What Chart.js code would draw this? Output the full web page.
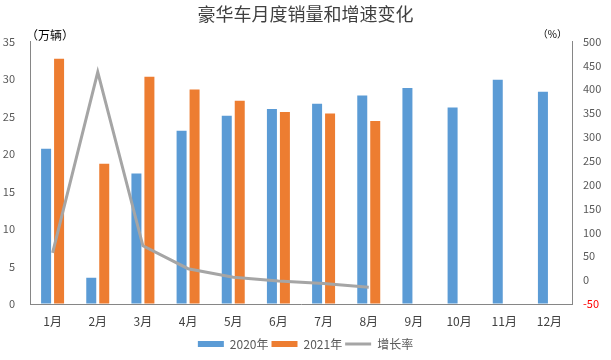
<!DOCTYPE html>
<html>
<head>
<meta charset="utf-8">
<script src="https://cdn.jsdelivr.net/npm/chart.js@4"></script>
<style>
	body { margin: 0; background: #fff; }
</style>
</head>
<body>
<canvas id="salesChart" width="611" height="360"></canvas>
<script>
	// 월별 카테고리
	const months = ["1月", "2月", "3月", "4月", "5月", "6月", "7月", "8月", "9月", "10月", "11月", "12月"];
	// 판매량 (万辆)
	const sales2020 = [20.7, 3.5, 17.4, 23.1, 25.1, 26.0, 26.7, 27.8, 28.8, 26.2, 29.9, 28.3];
	const sales2021 = [32.7, 18.7, 30.3, 28.6, 27.1, 25.6, 25.4, 24.4, null, null, null, null];
	// 증가율 (%)
	const growthRate = [57, 436, 72, 24, 6, -2, -7, -15, null, null, null, null];
	// 축 눈금
	const leftTicks = [0, 5, 10, 15, 20, 25, 30, 35];
	const rightTicks = [-50, 0, 50, 100, 150, 200, 250, 300, 350, 400, 450, 500];

	const fontFamily = '"Noto Sans CJK SC", "Liberation Sans", sans-serif';
	const axisColor = '#868686';
	const textColor = '#595959';

	// 단위 라벨 (万辆, %)
	const unitLabels = {
		id: 'unitLabels',
		afterDraw(chart) {
			const {ctx, chartArea} = chart;
			ctx.save();
			ctx.font = '12px ' + fontFamily;
			ctx.fillStyle = '#000';
			ctx.textBaseline = 'middle';
			ctx.textAlign = 'left';
			ctx.fillText('（万辆）', chartArea.left - 4, chartArea.top - 6);
			ctx.textAlign = 'right';
			ctx.font = '10px ' + fontFamily;
			ctx.fillText('（%）', chartArea.right - 5, chartArea.top - 7);
			ctx.restore();
		}
	};

	let ctx = document.getElementById('salesChart').getContext('2d');
	let salesChart = new Chart(ctx, {
		type: 'bar',
		data: {
			labels: months,
			datasets: [
				{
					label: '2020年',
					data: sales2020,
					backgroundColor: '#5B9BD5',
					yAxisID: 'y',
					order: 1,
					barPercentage: 0.77,
					categoryPercentage: 0.575
				},
				{
					label: '2021年',
					data: sales2021,
					backgroundColor: '#ED7D31',
					yAxisID: 'y',
					order: 1,
					barPercentage: 0.77,
					categoryPercentage: 0.575
				},
				{
					type: 'line',
					label: '增长率',
					data: growthRate,
					borderColor: '#A5A5A5',
					backgroundColor: '#A5A5A5',
					borderWidth: 3,
					pointRadius: 0,
					tension: 0,
					yAxisID: 'y1',
					order: 0
				}
			]
		},
		options: {
			responsive: false,
			animation: false,
			layout: {
				padding: { left: 0, right: 0, top: 0, bottom: 0 }
			},
			scales: {
				x: {
					offset: true,
					afterFit(scale) { scale.height = 31; },
					grid: { drawOnChartArea: false, drawTicks: false },
					border: { display: true, color: axisColor, width: 1 },
					ticks: {
						color: '#404040',
						font: { family: fontFamily, size: 12 },
						padding: 10,
						maxRotation: 0
					}
				},
				y: {
					position: 'left',
					min: 0,
					max: 35,
					afterFit(scale) { scale.width = 30; },
					afterBuildTicks(scale) { scale.ticks = leftTicks.map(v => ({value: v})); },
					grid: { drawOnChartArea: false, drawTicks: false },
					border: { display: true, color: axisColor, width: 1 },
					ticks: {
						color: textColor,
						font: { family: fontFamily, size: 11 },
						padding: 15
					}
				},
				y1: {
					position: 'right',
					min: -50,
					max: 500,
					afterFit(scale) { scale.width = 39; },
					afterBuildTicks(scale) { scale.ticks = rightTicks.map(v => ({value: v})); },
					grid: { drawOnChartArea: false, drawTicks: false },
					border: { display: true, color: axisColor, width: 1 },
					ticks: {
						color: (c) => c.tick && c.tick.value < 0 ? '#FF0000' : textColor,
						font: { family: fontFamily, size: 11 },
						padding: 11
					}
				}
			},
			plugins: {
				title: {
					display: true,
					text: '豪华车月度销量和增速变化',
					color: '#404040',
					font: { family: fontFamily, size: 18, weight: 'normal' },
					padding: { top: 3, bottom: 17 }
				},
				legend: {
					position: 'bottom',
					labels: {
						usePointStyle: true,
						pointStyleWidth: 26,
						boxHeight: 6,
						color: textColor,
						font: { family: fontFamily, size: 12 },
						padding: 3,
						sort: (a, b) => a.datasetIndex - b.datasetIndex,
						generateLabels(chart) {
							const items = Chart.defaults.plugins.legend.labels.generateLabels(chart);
							items.forEach(item => {
								if (item.datasetIndex === 2) {
									item.pointStyle = 'line';
									item.lineWidth = 3;
								} else {
									item.pointStyle = 'rect';
									item.lineWidth = 0;
								}
							});
							return items;
						}
					}
				},
				tooltip: { enabled: false }
			}
		},
		plugins: [unitLabels]
	});
</script>
</body>
</html>
